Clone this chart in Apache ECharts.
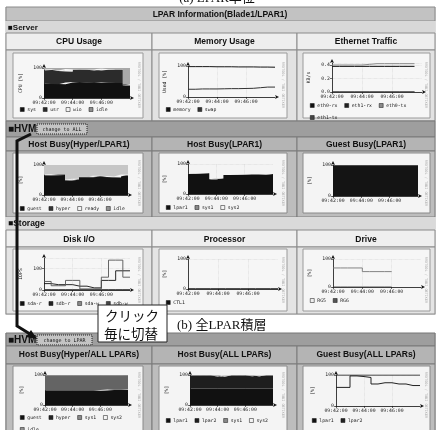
<!DOCTYPE html>
<html>
<head>
<meta charset="utf-8">
<script src="https://cdn.jsdelivr.net/npm/echarts@6/dist/echarts.min.js"></script>
<style>
  html, body { margin: 0; padding: 0; background: #fff; }
  #main { width: 438px; height: 430px; }
</style>
</head>
<body>
<div id="main"></div>
<script>
// time axis (30 s steps), labels only every 2 minutes
const times = ['09:42:00', '09:42:30', '09:43:00', '09:43:30', '09:44:00', '09:44:30', '09:45:00',
  '09:45:30', '09:46:00', '09:46:30', '09:47:00', '09:47:30', '09:48:00'];
const tickLabels = ['09:42:00', '09:44:00', '09:46:00'];

// CPU Usage [%]
const cpuSys = [48, 48, 47, 46, 52, 53, 52, 51, 50, 52, 51, 50, 42];
const cpuUsr = [44, 45, 47, 44, 36, 42, 43, 43, 42, 42, 44, 45, 4];
const cpuWio = [2, 2, 2, 2, 9, 1, 1, 1, 4, 4, 1, 1, 0];
const cpuIdle = [6, 5, 4, 8, 3, 4, 4, 5, 4, 2, 4, 4, 54];

// Memory Usage [%]
const memMemory = [98, 98, 98, 98, 97.5, 97.5, 97.5, 97, 97, 97, 96.5, 96.5, 96];
const memSwap = [25, 25, 26, 26, 26, 26.5, 27, 27, 27.5, 28, 30, 32, 32];

// Ethernet Traffic [KB/s]
const eth0Rx = [0.38, 0.38, 0.38, 0.38, 0.38, 0.38, 0.38, 0.38, 0.38, 0.38, 0.38, 0.38, null];
const eth1Rx = [0, 0, 0, 0, 0, 0, 0, 0, 0, 0, 0, 0, null];
const eth0Tx = [0.4, 0.4, 0.4, 0.4, 0.4, 0.41, 0.42, 0.42, 0.42, 0.42, 0.42, 0.42, null];
const eth1Tx = [0, 0, 0, 0, 0, 0, 0, 0, 0, 0, 0, 0, null];

// Host Busy(Hyper/LPAR1) [%]
const hhGuest = [65, 65, 66, 67, 48, 51, 59, 59, 61, 61, 58, 57, 65];
const hhHyper = [2, 2, 2, 2, 2, 2, 2, 2, 2, 2, 2, 2, 2];
const hhReady = [1, 1, 1, 1, 1, 1, 1, 1, 1, 1, 3, 3, 1];
const hhIdle = [32, 32, 31, 30, 49, 46, 38, 38, 36, 36, 37, 38, 32];

// Host Busy(LPAR1) [%]
const hlLpar1 = [67, 67, 68, 69, 49, 52, 63, 63, 64, 65, 65, 65, 67];
const hlSys1 = [0, 0, 0, 0, 0, 0, 0, 0, 0, 0, 0, 0, 0];
const hlSys2 = [0, 0, 0, 0, 0, 0, 0, 0, 0, 0, 0, 0, 0];

// Guest Busy(LPAR1) [%]
const glLpar1 = [99, 99, 99, 99, 99, 99, 99, 99, 99, 99, 99, 99, 99];

// Disk I/O [IOPS]
const diskSdaR = [30, 30, 25, 25, 25, 18, 18, 10, 10, 45, 45, 90, 90];
const diskSdbR = [0, 0, 0, 0, 0, 0, 0, 0, 0, 0, 0, 0, 0];
const diskSdaW = [40, 40, 20, 20, 45, 45, 5, 5, 5, 60, 140, 140, 60];
const diskSdbW = [2, 2, 2, 2, 2, 2, 2, 2, 2, 2, 2, 2, 2];

// Processor [%]
const procCtl1 = [1, 1, 1, 1, 1, 1, 1, 1, 1, 1, 1, 1, 1];

// Drive [%]
const driveRg5 = [68, 68, 68, 68, 68, 55, 55, 55, 55, null, null, null, null];
const driveRg6 = [0, 0, 0, 0, 0, 0, 0, 0, 0, null, null, null, null];

// Host Busy(Hyper/ALL LPARs) [%]
const haGuest = [47, 47, 47, 47, 47, 47, 47, 47, 47, 48, 50, 50, 50];
const haHyper = [2, 2, 2, 2, 2, 2, 2, 2, 2, 2, 2, 2, 2];
const haSys1 = [50, 50, 50, 50, 50, 50, 50, 50, 50, 49, 47, 47, 47];
const haSys2 = [0, 0, 0, 0, 0, 0, 0, 0, 0, 0, 0, 0, 0];
const haIdle = [1, 1, 1, 1, 1, 1, 1, 1, 1, 1, 1, 1, 1];

// Host Busy(ALL LPARs) [%]
const hAllLpar1 = [55, 55, 55, 55, 55, 55, 55, 55, 55, 55, 55, 55, 55];
const hAllLpar2 = [43, 43, 43, 43, 43, 40, 43, 43, 43, 43, 41, 43, 43];
const hAllSys1 = [0, 0, 0, 0, 0, 0, 0, 0, 0, 0, 0, 0, 0];
const hAllSys2 = [0, 0, 0, 0, 0, 0, 0, 0, 0, 0, 0, 0, 0];

// Guest Busy(ALL LPARs) [%]
const gAllLpar1 = [100, 100, 100, 100, 100, 100, 100, 100, 100, 100, 100, 100, 100];
const gAllLpar2 = [60, 60, 60, 97, 95, 92, 71, 75, 75, 71, 71, 66, 66];

const RRD_FONT = 'DejaVu Sans Mono';
const HEAD_FONT = 'Liberation Sans';

const grids = [];
const xAxes = [];
const yAxes = [];
const series = [];
const legends = [];
const graphics = [];

const showTick = (k, v) => tickLabels.includes(v);

function addChart(box, yName, yMax, yInterval, fmt) {
  const i = grids.length;
  grids.push({ left: box[0], top: box[1], width: box[2], height: box[3] });
  xAxes.push({
    gridIndex: i, type: 'category', data: times, boundaryGap: false,
    axisLine: { onZero: false, lineStyle: { color: '#111', width: 0.8 }, symbol: ['none', 'arrow'], symbolSize: [3, 4], symbolOffset: [0, 4] },
    axisTick: { show: true, length: 2, interval: showTick, lineStyle: { color: '#111', width: 0.6 } },
    axisLabel: { interval: showTick, fontSize: 4.8, margin: 2, color: '#222', fontFamily: RRD_FONT },
    splitLine: { show: true, interval: showTick, lineStyle: { color: '#d0d0d0', type: 'dotted', width: 0.6 } }
  });
  yAxes.push({
    gridIndex: i, type: 'value', min: 0, max: yMax, interval: yInterval,
    name: yName, nameLocation: 'middle', nameGap: 21,
    nameTextStyle: { fontSize: 4.8, color: '#222', fontFamily: RRD_FONT },
    axisLine: { show: true, lineStyle: { color: '#111', width: 0.8 }, symbol: ['none', 'arrow'], symbolSize: [3, 4], symbolOffset: [0, 4] },
    axisTick: { show: true, length: 2, lineStyle: { color: '#111', width: 0.6 } },
    axisLabel: { fontSize: 4.8, margin: 2, color: '#222', fontFamily: RRD_FONT, formatter: fmt, showMaxLabel: yMax === yInterval * Math.round(yMax / yInterval) },
    splitLine: { show: true, lineStyle: { color: '#d0d0d0', type: 'dotted', width: 0.6 } }
  });
  return i;
}

function area(i, name, data, color, stack) {
  series.push({
    name, type: 'line', xAxisIndex: i, yAxisIndex: i, data, step: 'start', stack,
    symbol: 'none', lineStyle: { width: 0 }, areaStyle: { color, opacity: 1 }, itemStyle: { color }
  });
}

function line(i, name, data, color, width) {
  series.push({
    name, type: 'line', xAxisIndex: i, yAxisIndex: i, data, step: 'start',
    symbol: 'none', lineStyle: { width: width || 0.9, color }, itemStyle: { color }
  });
}

function addLegend(left, top, width, items) {
  legends.push({
    left, top, width, padding: 0, itemGap: 7, itemWidth: 4, itemHeight: 4, icon: 'rect',
    selectedMode: false,
    textStyle: { fontSize: 4.8, color: '#222', fontFamily: RRD_FONT, padding: [0, 0, 0, -2] },
    data: items.map(([n, c]) => ({ name: n, itemStyle: { color: c, borderColor: '#111', borderWidth: 0.5 } }))
  });
}

function rect(x, y, w, h, fill, stroke, extra) {
  graphics.push(Object.assign({
    type: 'rect', z: -10, shape: { x, y, width: w, height: h },
    style: { fill, stroke: stroke || null, lineWidth: stroke ? 1 : 0 }
  }, extra || {}));
}

function text(x, y, str, font, align, extra) {
  graphics.push(Object.assign({
    type: 'text', z: -5, x, y,
    style: { text: str, font, fill: '#111', align: align || 'left', verticalAlign: 'middle' }
  }, extra || {}));
}

function watermark(x, yMid) {
  graphics.push({
    type: 'text', z: -5, x, y: yMid, rotation: -Math.PI / 2,
    style: { text: 'RRDTOOL / TOBI OETIKER', font: '3.5px ' + RRD_FONT, fill: '#aaa', align: 'center', verticalAlign: 'middle' }
  });
}

// ---------- page frame ----------
const cols = [[6, 146], [152, 145], [297, 138]];
const panelX = [[13, 130], [159, 128], [303, 127]];

text(217, -1, '(a) LPAR単位', '13px "Liberation Serif", "Noto Sans CJK JP"', 'center');

rect(5, 7, 431, 308, '#dcdcdc');
rect(6, 7, 429, 14, '#c2c2c2', '#8a8a8a');
text(220, 14.5, 'LPAR Information(Blade1/LPAR1)', 'bold 8.5px ' + HEAD_FONT, 'center');
rect(6, 21, 429, 12, '#d8d8d8');
text(8, 27.5, '■Server', 'bold 8px ' + HEAD_FONT);

const head1 = ['CPU Usage', 'Memory Usage', 'Ethernet Traffic'];
cols.forEach(([x, w], k) => {
  rect(x, 33, w, 17, '#eeeeee', '#8a8a8a');
  text(x + w / 2, 42, head1[k], 'bold 8.5px ' + HEAD_FONT, 'center');
  rect(x, 50, w, 71, '#e2e2e2', '#8a8a8a');
  rect(panelX[k][0], 53, panelX[k][1], 65, '#f6f6f6', '#9a9a9a');
  watermark(panelX[k][0] + panelX[k][1] - 4, 85);
});

rect(6, 121, 429, 16, '#9e9e9e', '#777777');
text(8, 129.5, '■HVM', 'bold 10px ' + HEAD_FONT);
rect(37, 124, 50, 10, '#c4c4c4', '#222222', { style: { fill: '#c4c4c4', stroke: '#222', lineWidth: 1, lineDash: [1, 1] } });
text(62, 129.5, 'change to ALL', '5px ' + RRD_FONT, 'center');

const head2 = ['Host Busy(Hyper/LPAR1)', 'Host Busy(LPAR1)', 'Guest Busy(LPAR1)'];
cols.forEach(([x, w], k) => {
  rect(x, 137, w, 14, '#b4b4b4', '#7a7a7a');
  text(x + w / 2, 144.5, head2[k], 'bold 8.5px ' + HEAD_FONT, 'center');
  rect(x, 151, w, 66, '#bdbdbd', '#7a7a7a');
  rect(panelX[k][0], 153, panelX[k][1], 60, '#f4f4f4', '#8a8a8a');
  watermark(panelX[k][0] + panelX[k][1] - 4, 183);
});

rect(6, 217, 429, 13, '#dadada');
text(8, 224, '■Storage', 'bold 8.5px ' + HEAD_FONT);
const head3 = ['Disk I/O', 'Processor', 'Drive'];
cols.forEach(([x, w], k) => {
  rect(x, 230, w, 17, '#efefef', '#8a8a8a');
  text(x + w / 2, 239.5, head3[k], 'bold 8.5px ' + HEAD_FONT, 'center');
  rect(x, 247, w, 67, '#e4e4e4', '#8a8a8a');
  rect(panelX[k][0], 249, panelX[k][1], 62, '#f6f6f6', '#9a9a9a');
  watermark(panelX[k][0] + panelX[k][1] - 4, 280);
});

// section (b)
rect(5, 333, 431, 100, '#c8c8c8');
rect(6, 333, 429, 13, '#9e9e9e', '#777777');
text(8, 340, '■HVM', 'bold 10px ' + HEAD_FONT);
rect(37, 335, 55, 10, '#c4c4c4', '#222222', { style: { fill: '#c4c4c4', stroke: '#222', lineWidth: 1, lineDash: [1, 1] } });
text(64.5, 340.5, 'change to LPAR', '5px ' + RRD_FONT, 'center');
const head4 = ['Host Busy(Hyper/ALL LPARs)', 'Host Busy(ALL LPARs)', 'Guest Busy(ALL LPARs)'];
cols.forEach(([x, w], k) => {
  rect(x, 346, w, 18, '#b4b4b4', '#7a7a7a');
  text(x + w / 2, 355, head4[k], 'bold 8.5px ' + HEAD_FONT, 'center');
  rect(x, 364, w, 70, '#bdbdbd', '#7a7a7a');
  rect(panelX[k][0], 366, panelX[k][1], 70, '#f4f4f4', '#8a8a8a');
  watermark(panelX[k][0] + panelX[k][1] - 4, 395);
});

// callout and caption
graphics.push({ type: 'rect', z: 50, shape: { x: 98, y: 305, width: 69, height: 37 }, style: { fill: '#ffffff', stroke: '#222', lineWidth: 1 } });
text(105, 316, 'クリック', '13.5px "Noto Sans CJK JP"', 'left', { z: 51 });
text(104, 334, '毎に切替', '13.5px "Noto Sans CJK JP"', 'left', { z: 51 });
text(177, 326, '(b) 全LPAR積層', '13px "Liberation Serif", "Noto Sans CJK JP"', 'left', { z: 51 });

// thick arrow from the upper HVM switch down to the lower one
graphics.push({ type: 'polyline', z: 60, shape: { points: [[31, 134], [17, 141], [17, 326], [30, 334]] }, style: { stroke: '#111', lineWidth: 3, fill: null } });
graphics.push({ type: 'polygon', z: 60, shape: { points: [[37, 339], [26, 337], [31, 330]] }, style: { fill: '#111' } });

// ---------- charts ----------
const pct = v => String(v);
let c;

c = addChart([44, 68, 86, 30], 'CPU [%]', 100, 100, pct);
area(c, 'sys', cpuSys, '#111111', 'cpu');
area(c, 'usr', cpuUsr, '#2b2b2b', 'cpu');
area(c, 'wio', cpuWio, '#f0f0f0', 'cpu');
area(c, 'idle', cpuIdle, '#a8a8a8', 'cpu');
addLegend(20, 107, 120, [['sys', '#111111'], ['usr', '#2b2b2b'], ['wio', '#f4f4f4'], ['idle', '#909090']]);

c = addChart([188, 66, 87, 31], 'Used [%]', 100, 100, pct);
line(c, 'memory', memMemory, '#1a1a1a', 1);
line(c, 'swap', memSwap, '#333333', 1);
addLegend(166, 107, 110, [['memory', '#111111'], ['swap', '#333333']]);

c = addChart([332, 63, 90, 29], 'KB/s', 0.43, 0.2, v => v.toFixed(1));
line(c, 'eth0-rx', eth0Rx, '#111111', 1);
line(c, 'eth1-rx', eth1Rx, '#222222', 1);
line(c, 'eth0-tx', eth0Tx, '#8a8a8a', 1);
line(c, 'eth1-tx', eth1Tx, '#444444', 1);
addLegend(310, 103, 118, [['eth0-rx', '#111111'], ['eth1-rx', '#222222'], ['eth0-tx', '#8a8a8a'], ['eth1-tx', '#444444']]);

c = addChart([44, 165, 84, 30], '[%]', 100, 100, pct);
area(c, 'guest', hhGuest, '#111111', 'hh');
area(c, 'hyper', hhHyper, '#333333', 'hh');
area(c, 'ready', hhReady, '#f2f2f2', 'hh');
area(c, 'idle', hhIdle, '#c6c6c6', 'hh');
addLegend(20, 206, 120, [['guest', '#111111'], ['hyper', '#333333'], ['ready', '#f4f4f4'], ['idle', '#909090']]);

c = addChart([188, 164, 85, 30], '[%]', 100, 100, pct);
area(c, 'lpar1', hlLpar1, '#111111', 'hl');
area(c, 'sys1', hlSys1, '#888888', 'hl');
area(c, 'sys2', hlSys2, '#f2f2f2', 'hl');
addLegend(166, 205, 110, [['lpar1', '#111111'], ['sys1', '#888888'], ['sys2', '#f4f4f4']]);

c = addChart([333, 165, 85, 31], '[%]', 100, 100, pct);
area(c, 'lpar1', glLpar1, '#141414', 'gl');

c = addChart([44, 258, 86, 32], 'IOPS', 150, 100, pct);
line(c, 'sda-r', diskSdaR, '#111111', 0.9);
line(c, 'sdb-r', diskSdbR, '#222222', 0.9);
line(c, 'sda-w', diskSdaW, '#555555', 0.9);
line(c, 'sdb-w', diskSdbW, '#444444', 0.9);
addLegend(20, 301, 120, [['sda-r', '#111111'], ['sdb-r', '#222222'], ['sda-w', '#888888'], ['sdb-w', '#444444']]);

c = addChart([188, 259, 90, 30], '[%]', 100, 100, pct);
line(c, 'CTL1', procCtl1, '#111111', 0.9);
addLegend(166, 300, 110, [['CTL1', '#111111']]);

c = addChart([333, 259, 88, 28], '[%]', 100, 100, pct);
line(c, 'RG5', driveRg5, '#777777', 0.9);
line(c, 'RG6', driveRg6, '#444444', 0.9);
addLegend(310, 298, 110, [['RG5', '#eeeeee'], ['RG6', '#555555']]);

c = addChart([45, 375, 83, 30], '[%]', 100, 100, pct);
area(c, 'guest', haGuest, '#111111', 'ha');
area(c, 'hyper', haHyper, '#222222', 'ha');
area(c, 'sys1', haSys1, '#646464', 'ha');
area(c, 'sys2', haSys2, '#eeeeee', 'ha');
area(c, 'idle', haIdle, '#9a9a9a', 'ha');
addLegend(20, 415, 118, [['guest', '#111111'], ['hyper', '#222222'], ['sys1', '#888888'], ['sys2', '#f4f4f4'], ['idle', '#909090']]);

c = addChart([190, 375, 83, 30], '[%]', 100, 100, pct);
area(c, 'lpar1', hAllLpar1, '#111111', 'hall');
area(c, 'lpar2', hAllLpar2, '#1e1e1e', 'hall');
area(c, 'sys1', hAllSys1, '#888888', 'hall');
area(c, 'sys2', hAllSys2, '#eeeeee', 'hall');
addLegend(166, 418, 118, [['lpar1', '#111111'], ['lpar2', '#1e1e1e'], ['sys1', '#888888'], ['sys2', '#f4f4f4']]);

c = addChart([336, 375, 84, 31], '[%]', 100, 100, pct);
line(c, 'lpar1', gAllLpar1, '#111111', 1);
line(c, 'lpar2', gAllLpar2, '#222222', 1);
addLegend(312, 418, 110, [['lpar1', '#111111'], ['lpar2', '#222222']]);

const chart = echarts.init(document.getElementById('main'));
chart.setOption({
  backgroundColor: '#ffffff',
  animation: false,
  grid: grids,
  xAxis: xAxes,
  yAxis: yAxes,
  legend: legends,
  series,
  graphic: { elements: graphics }
});
</script>
</body>
</html>
